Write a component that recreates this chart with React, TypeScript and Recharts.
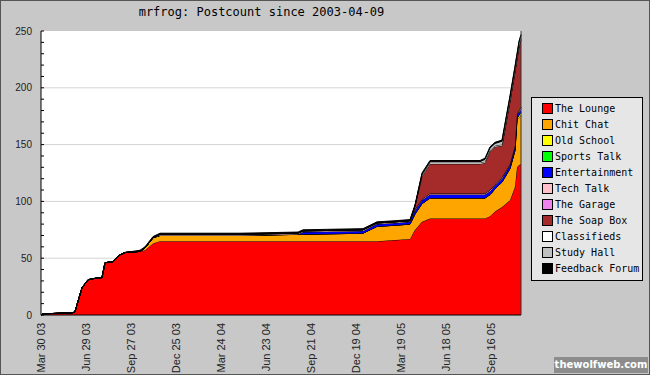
import { AreaChart, Area, XAxis, YAxis, CartesianGrid } from 'recharts'

// days since Mar 30 03
const days = [0, 4, 64, 68, 82, 94, 104, 122, 128, 144, 158, 168, 198, 208, 224, 238, 318, 398, 514, 524, 644, 672, 708, 738, 748, 762, 778, 878, 888, 898, 908, 922, 938, 948, 952, 956, 960]

const lounge = [0, 1, 2, 3, 24, 31, 32, 33, 46, 47, 53, 55, 56, 57, 63, 65, 65, 65, 65, 65, 65, 65, 66, 67, 75, 82, 85, 85, 85, 87, 91, 95, 101, 113, 130, 132, 133]
const chitChat = [0, 0, 0, 0, 0, 0, 0, 0, 0, 0, 0, 0, 0, 2, 5, 5, 5, 5, 6, 6, 7, 13, 13, 13, 14, 16, 18, 18, 18, 19, 20, 22, 28, 32, 42, 42, 43]
const oldSchool = [0, 0, 0, 0, 0, 0, 0, 0, 0, 0, 0, 0, 0, 0, 0, 0, 0, 0, 0, 0, 0, 0, 0, 0, 0, 0, 0, 0, 0, 0, 0, 0, 0, 0, 1, 2, 2]
const sportsTalk = [0, 0, 0, 0, 0, 0, 0, 0, 0, 0, 0, 0, 0, 0, 0, 0, 0, 0, 0, 0, 0, 0, 0, 0, 0, 0, 0, 0, 0, 0, 0, 0, 0, 0, 0, 0, 0]
const entertainment = [0, 0, 0, 0, 0, 0, 0, 0, 0, 0, 0, 0, 0, 0, 0, 0, 0, 0, 0, 2, 2, 2, 2, 2, 3, 3, 3, 3, 3, 3, 3, 3, 3, 3, 3, 3, 3]
const techTalk = [0, 0, 0, 0, 0, 0, 0, 0, 0, 0, 0, 0, 0, 0, 0, 1, 1, 1, 1, 1, 1, 1, 1, 1, 1, 1, 1, 1, 1, 1, 1, 1, 1, 1, 1, 1, 2]
const garage = [0, 0, 0, 0, 0, 0, 0, 0, 0, 0, 0, 0, 0, 0, 0, 0, 0, 0, 0, 0, 0, 0, 0, 0, 0, 0, 0, 0, 0, 0, 0, 0, 0, 0, 0, 0, 0]
const soapBox = [0, 0, 0, 0, 0, 0, 0, 0, 0, 0, 0, 0, 0, 0, 0, 0, 0, 0, 0, 0, 0, 0, 0, 0, 3, 20, 26, 26, 27, 34, 33, 28, 55, 65, 48, 56, 59]
const classifieds = [0, 0, 0, 0, 0, 0, 0, 0, 0, 0, 0, 0, 0, 0, 0, 0, 0, 0, 0, 0, 0, 0, 0, 0, 0, 1, 1, 1, 1, 1, 1, 1, 1, 1, 1, 1, 1]
const studyHall = [0, 0, 0, 0, 0, 0, 0, 0, 0, 0, 0, 0, 0, 0, 0, 0, 0, 0, 0, 0, 0, 0, 0, 0, 0, 1, 1, 1, 2, 2, 2, 3, 3, 3, 3, 3, 3]
const feedback = [0, 0, 0, 0, 0, 0, 0, 0, 0, 0, 0, 0, 1, 1, 1, 1, 1, 1, 1, 1, 1, 1, 1, 1, 1, 1, 1, 1, 1, 1, 1, 1, 1, 1, 1, 1, 1]

const series = [
  { key: 'lounge', name: 'The Lounge', color: '#ff0000', values: lounge },
  { key: 'chit', name: 'Chit Chat', color: '#ffa500', values: chitChat },
  { key: 'old', name: 'Old School', color: '#ffff00', values: oldSchool },
  { key: 'sports', name: 'Sports Talk', color: '#00ff00', values: sportsTalk },
  { key: 'ent', name: 'Entertainment', color: '#0000ff', values: entertainment },
  { key: 'tech', name: 'Tech Talk', color: '#ffc0cb', values: techTalk },
  { key: 'garage', name: 'The Garage', color: '#ee82ee', values: garage },
  { key: 'soap', name: 'The Soap Box', color: '#a52a2a', values: soapBox },
  { key: 'class', name: 'Classifieds', color: '#ffffff', values: classifieds },
  { key: 'study', name: 'Study Hall', color: '#c0c0c0', values: studyHall },
  { key: 'feedback', name: 'Feedback Forum', color: '#000000', values: feedback },
]

const xTicks = [0, 91, 181, 270, 360, 451, 541, 630, 720, 811, 901]
const xLabels = ['Mar 30 03', 'Jun 29 03', 'Sep 27 03', 'Dec 25 03', 'Mar 24 04', 'Jun 23 04', 'Sep 21 04', 'Dec 19 04', 'Mar 19 05', 'Jun 18 05', 'Sep 16 05']
const yTicks = [0, 10, 20, 30, 40, 50, 60, 70, 80, 90, 100, 110, 120, 130, 140, 150, 160, 170, 180, 190, 200, 210, 220, 230, 240, 250]

const data = days.map((day, i) => {
  const row: Record<string, number> = { day }
  series.forEach((s) => {
    row[s.key] = s.values[i]
  })
  return row
})

const axisFont = '"Liberation Sans", Arial, sans-serif'
const monoFont = '"DejaVu Sans Mono", monospace'

const LeftTick = (props: any) => {
  const { x, y, payload } = props
  const v = payload.value
  return (
    <g>
      <line x1={x} x2={x + 3} y1={y} y2={y} stroke="#000" />
      {v % 50 === 0 && (
        <text x={x - 9} y={y} dy="0.35em" textAnchor="end" fontSize={10} fill="#222" fontFamily={axisFont}>
          {v}
        </text>
      )}
    </g>
  )
}

const RightTick = (props: any) => {
  const { x, y } = props
  return <line x1={x - 3} x2={x} y1={y} y2={y} stroke="#000" />
}

const BottomTick = (props: any) => {
  const { x, y, payload } = props
  const label = xLabels[xTicks.indexOf(payload.value)]
  return (
    <text
      transform={`translate(${x},${y + 8}) rotate(-90)`}
      x={0}
      y={0}
      dy="0.35em"
      textAnchor="end"
      fontSize={11}
      fill="#222"
      fontFamily={axisFont}
    >
      {label}
    </text>
  )
}

export default function App() {
  return (
    <div
      style={{
        position: 'absolute',
        left: 0,
        top: 0,
        width: 650,
        height: 375,
        background: '#c8c8c8',
        boxShadow: 'inset 0 0 0 1px #555',
      }}
    >
      <div
        style={{
          position: 'absolute',
          left: 0,
          top: 4,
          width: 523,
          textAlign: 'center',
          fontFamily: monoFont,
          fontSize: 12,
          lineHeight: '16px',
          color: '#000',
        }}
      >
        mrfrog: Postcount since 2003-04-09
      </div>
      <AreaChart width={650} height={375} data={data} margin={{ top: 31, right: 119, left: 8, bottom: 5 }}>
        <CartesianGrid
          vertical={false}
          horizontalValues={[50, 100, 150, 200]}
          stroke="#d4d4d4"
          fill="#ffffff"
          fillOpacity={1}
        />
        <XAxis
          dataKey="day"
          type="number"
          domain={[0, 960]}
          ticks={xTicks}
          interval={0}
          height={55}
          tickSize={0}
          tickMargin={0}
          tickLine={false}
          axisLine={{ stroke: '#000' }}
          tick={<BottomTick />}
        />
        <YAxis
          type="number"
          domain={[0, 250]}
          ticks={yTicks}
          interval={0}
          width={33}
          tickSize={0}
          tickMargin={0}
          tickLine={false}
          axisLine={{ stroke: '#000' }}
          tick={<LeftTick />}
        />
        <YAxis
          yAxisId="right"
          orientation="right"
          type="number"
          domain={[0, 250]}
          ticks={yTicks}
          interval={0}
          width={10}
          tickSize={0}
          tickMargin={0}
          tickLine={false}
          axisLine={{ stroke: '#333' }}
          tick={<RightTick />}
        />
        {series.map((s) => (
          <Area
            key={s.key}
            type="linear"
            dataKey={s.key}
            name={s.name}
            stackId="posts"
            stroke="#000"
            strokeWidth={1}
            fill={s.color}
            fillOpacity={1}
            dot={false}
            activeDot={false}
            isAnimationActive={false}
          />
        ))}
      </AreaChart>
      <div
        style={{
          position: 'absolute',
          left: 531,
          top: 97,
          width: 110,
          height: 180,
          paddingTop: 2,
          boxSizing: 'content-box',
          background: '#e6e6e6',
          border: '1px solid #000',
          fontFamily: monoFont,
          fontSize: 10,
          color: '#000',
        }}
      >
        {series.map((s) => (
          <div key={s.key} style={{ display: 'flex', alignItems: 'center', height: 16 }}>
            <span
              style={{
                display: 'inline-block',
                width: 9,
                height: 9,
                marginLeft: 10,
                marginRight: 2,
                background: s.color,
                border: '1px solid #000',
              }}
            />
            <span>{s.name}</span>
          </div>
        ))}
      </div>
      <div
        style={{
          position: 'absolute',
          left: 554,
          top: 357,
          width: 94,
          height: 16,
          background: '#8c8c8c',
          color: '#fff',
          fontFamily: '"DejaVu Sans", sans-serif',
          fontWeight: 'bold',
          fontSize: 10,
          lineHeight: '16px',
          textAlign: 'center',
        }}
      >
        thewolfweb.com
      </div>
    </div>
  )
}
